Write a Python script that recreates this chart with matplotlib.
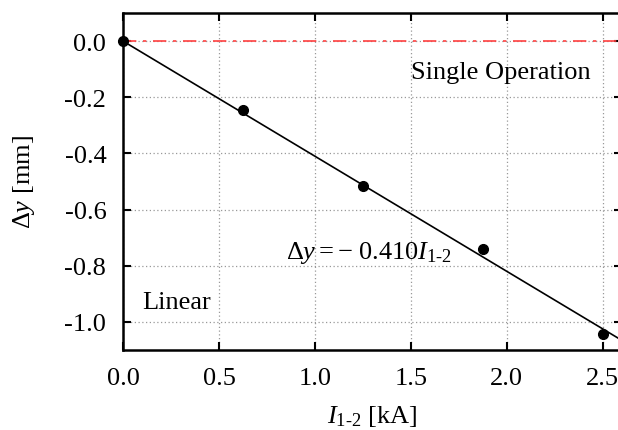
import matplotlib
matplotlib.use('Agg')
import matplotlib.pyplot as plt
import numpy as np

plt.rcParams['font.family'] = 'Liberation Serif'
plt.rcParams['mathtext.fontset'] = 'custom'
plt.rcParams['mathtext.rm'] = 'Liberation Serif'
plt.rcParams['mathtext.it'] = 'Liberation Serif:italic'

# measured data
current = [0.0, 0.625, 1.25, 1.875, 2.5]
dy = [0.0, -0.246, -0.515, -0.742, -1.042]
dy_err = [0.0, 0.01, 0.01, 0.015, 0.015]
slope = -0.410

xticks = [0.0, 0.5, 1.0, 1.5, 2.0, 2.5]
yticks = [0.0, -0.2, -0.4, -0.6, -0.8, -1.0]

fs = 19

fig = plt.figure(figsize=(6.18, 4.31), dpi=100)
ax = fig.add_axes([123/618, 1 - 351/431, (622 - 123)/618, (351 - 14)/431])

ax.axhline(0, color='#ff4040', ls=(0, (8, 4, 2, 4)), lw=1.2, zorder=2)
xf = np.array([0, 2.6])
ax.plot(xf, slope * xf, color='black', lw=1.2, zorder=3)
ax.errorbar(current, dy, yerr=dy_err, fmt='o', color='black', ms=7,
            capsize=0, elinewidth=1.2, zorder=4, clip_on=False)

ax.set_xlim(0, 2.6)
ax.set_ylim(-1.1, 0.1)
ax.set_xticks(xticks)
ax.set_yticks(yticks)
ax.set_xticklabels(['%.1f' % v for v in xticks])
ax.set_yticklabels(['%.1f' % v for v in yticks])
ax.tick_params(direction='in', top=True, right=True, labelsize=fs,
               length=6, width=1.5, pad=12)
ax.grid(True, ls=(0, (1, 2)), color='#999999', lw=0.9)
for s in ax.spines.values():
    s.set_linewidth(1.8)

ax.set_xlabel(r'$I_{\rm 1\text{-}2}$ [kA]', fontsize=fs, labelpad=10)
ax.set_ylabel(r'$\mathit{Δy}$ [mm]', fontsize=fs, labelpad=20)

ax.text(1.5, -0.11, 'Single Operation', fontsize=fs, va='center')
ax.text(0.1, -0.93, 'Linear', fontsize=fs, va='center')
ax.text(0.85, -0.75, r'$\mathit{Δy} = -\ 0.410 I_{\rm 1\text{-}2}$', fontsize=fs, va='center')

fig.savefig('out.png', dpi=100)
